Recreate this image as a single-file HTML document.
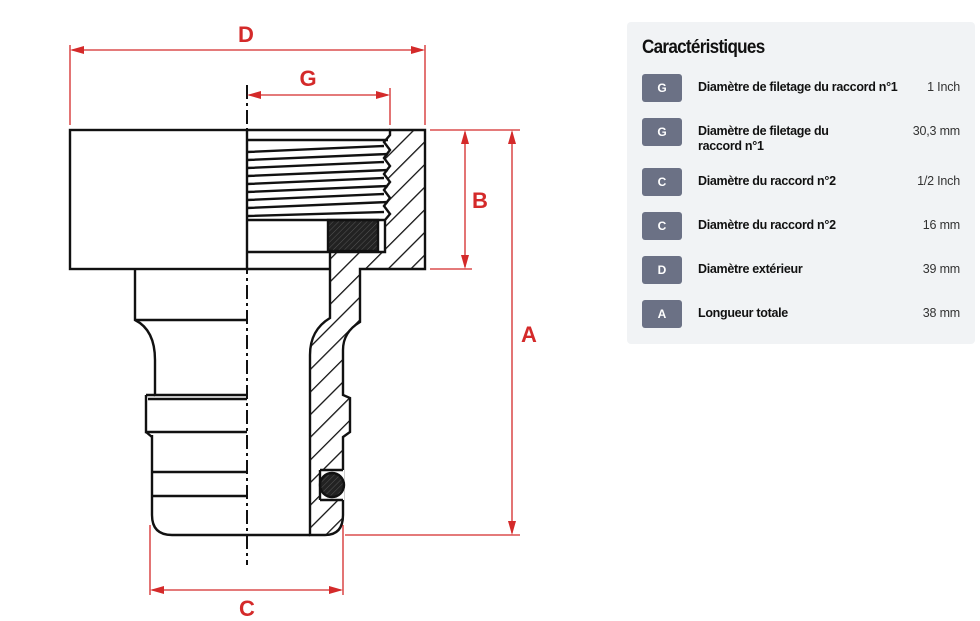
<!DOCTYPE html>
<html><head><meta charset="utf-8"><style>
body{margin:0;width:980px;height:621px;background:#fff;overflow:hidden;position:relative;font-family:"Liberation Sans",sans-serif}
.panel{position:absolute;left:627px;top:22px;width:348px;height:322px;background:#f1f3f5;border-radius:4px}
.title{position:absolute;left:15px;top:15px;font-size:19px;font-weight:bold;color:#111;letter-spacing:-0.8px;transform:scaleX(0.9);transform-origin:left}
.row{position:absolute;left:15px;width:318px}
.badge{position:absolute;left:0;top:0;width:40px;height:28px;background:#6b7185;border-radius:3px;color:#fff;font-weight:bold;font-size:12px;text-align:center;line-height:28px}
.lab{position:absolute;left:56px;top:6px;font-size:12.5px;font-weight:bold;color:#111;line-height:15px;letter-spacing:-0.3px}
.val{position:absolute;right:0;top:6px;font-size:12.5px;color:#333;letter-spacing:-0.2px}
</style></head><body>
<svg width="620" height="621" style="position:absolute;left:0;top:0">
<defs>
<pattern id="h" width="16" height="16" patternUnits="userSpaceOnUse" patternTransform="rotate(45)">
<line x1="0" y1="0" x2="0" y2="16" stroke="#111" stroke-width="2.6"/></pattern>
<pattern id="hd" width="4" height="4" patternUnits="userSpaceOnUse" patternTransform="rotate(45)">
<rect width="4" height="4" fill="#222"/><line x1="0" y1="0" x2="0" y2="4" stroke="#555" stroke-width="1"/></pattern>
</defs>
<g fill="none" stroke="#111" stroke-width="2.4">
<rect x="70" y="130" width="177" height="139"/>
<path d="M135 269 V320 Q155 330 155 360 V395 H247"/>
<path d="M146 395 H155 M146 399 V432 H247 M146 395 V399 M148 399 H247"/>
<path d="M152 435 V515 Q152 535 172 535 H310"/>
<path d="M152 472 H247 M152 496 H247 M146 432 L152 437"/>
<path d="M135 320 H247"/>
<path d="M390 130 L425 130 L425 269 L360 269 L360 322 Q343 332 343 350 L343 395 L350 398 L350 432 L343 437 L343 515 Q343 535 325 535 L310 535 L310 355 Q310 330 330 318 L330 252 L385 252 L385 220 L390 214 L384 206 L390 198 L384 190 L390 182 L384 174 L390 166 L384 158 L390 150 L384 142 L390 135 Z" fill="url(#h)"/>
<rect x="328" y="220" width="50" height="31" fill="url(#hd)"/>
<path d="M247 130 H390 M247 140 H388 M247 220 H385 M247 252 H330 M247 269 H330"/>
<path d="M247 152 L384 146 M247 160 L388 154 M247 168 L384 162 M247 176 L388 170 M247 184 L384 178 M247 192 L388 186 M247 200 L384 194 M247 208 L388 202 M247 216 L384 212"/>
<rect x="320" y="470" width="24" height="30" fill="#fff" stroke="none"/>
<path d="M320 470 V500 M320 470 H343 M320 500 H343"/>
<circle cx="332" cy="485" r="12" fill="url(#hd)"/>
</g>
<line x1="247" y1="85" x2="247" y2="565" stroke="#111" stroke-width="2" stroke-dasharray="14,4,3,4"/>
<g stroke="#d42a2a" stroke-width="1.3" fill="#d42a2a">
<line x1="70" y1="45" x2="70" y2="125"/><line x1="425" y1="45" x2="425" y2="125"/>
<line x1="390" y1="88" x2="390" y2="125"/>
<line x1="72" y1="50" x2="423" y2="50"/>
<line x1="249" y1="95" x2="388" y2="95"/>
<line x1="430" y1="130" x2="520" y2="130"/><line x1="430" y1="269" x2="472" y2="269"/>
<line x1="345" y1="535" x2="520" y2="535"/>
<line x1="465" y1="132" x2="465" y2="267"/><line x1="512" y1="132" x2="512" y2="533"/>
<line x1="150" y1="525" x2="150" y2="595"/><line x1="343" y1="525" x2="343" y2="595"/>
<line x1="152" y1="590" x2="341" y2="590"/>
<path d="M70 50 l14 -4 v8z M425 50 l-14 -4 v8z M247 95 l14 -4 v8z M390 95 l-14 -4 v8z M465 130 l-4 14 h8z M465 269 l-4 -14 h8z M512 130 l-4 14 h8z M512 535 l-4 -14 h8z M150 590 l14 -4 v8z M343 590 l-14 -4 v8z" stroke="none"/>
</g>
<g fill="#d42a2a" font-weight="bold" font-size="22" text-anchor="middle" font-family="Liberation Sans,sans-serif">
<text x="246" y="42">D</text><text x="308" y="86">G</text><text x="480" y="208">B</text><text x="529" y="342">A</text><text x="247" y="616">C</text>
</g>
</svg>
<div class="panel">
<div class="title">Caractéristiques</div>
<div class="row" style="top:52px"><div class="badge">G</div><div class="lab">Diamètre de filetage du raccord n°1</div><div class="val">1 Inch</div></div>
<div class="row" style="top:96px"><div class="badge">G</div><div class="lab">Diamètre de filetage du<br>raccord n°1</div><div class="val">30,3 mm</div></div>
<div class="row" style="top:146px"><div class="badge">C</div><div class="lab">Diamètre du raccord n°2</div><div class="val">1/2 Inch</div></div>
<div class="row" style="top:190px"><div class="badge">C</div><div class="lab">Diamètre du raccord n°2</div><div class="val">16 mm</div></div>
<div class="row" style="top:234px"><div class="badge">D</div><div class="lab">Diamètre extérieur</div><div class="val">39 mm</div></div>
<div class="row" style="top:278px"><div class="badge">A</div><div class="lab">Longueur totale</div><div class="val">38 mm</div></div>
</div>
</body></html>
